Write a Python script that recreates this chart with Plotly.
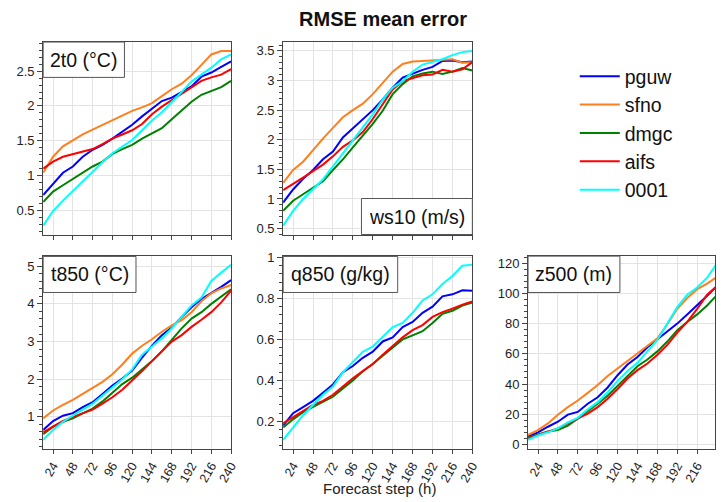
import plotly.graph_objects as go

W, H = 723, 502

steps = [12, 24, 36, 48, 60, 72, 84, 96, 108, 120, 132, 144, 156, 168, 180, 192, 204, 216, 228, 240]
models = ['pguw', 'sfno', 'dmgc', 'aifs', '0001']
colors = {'pguw': '#0000ff', 'sfno': '#ff7f1e', 'dmgc': '#008000', 'aifs': '#ff0000', '0001': '#00ffff'}

# ── 2t0 (°C) ──────────────────────────────────────────────────────────────────
t2_pguw = [0.72, 0.88, 1.04, 1.13, 1.27, 1.37, 1.44, 1.53, 1.63, 1.73, 1.85, 1.96, 2.07, 2.12, 2.20, 2.28, 2.42, 2.48, 2.56, 2.64]
t2_sfno = [1.04, 1.27, 1.42, 1.51, 1.59, 1.66, 1.73, 1.80, 1.87, 1.93, 1.98, 2.04, 2.14, 2.24, 2.32, 2.44, 2.59, 2.74, 2.79, 2.79]
t2_dmgc = [0.62, 0.77, 0.86, 0.95, 1.03, 1.13, 1.20, 1.31, 1.38, 1.44, 1.53, 1.61, 1.68, 1.81, 1.94, 2.06, 2.16, 2.22, 2.27, 2.36]
t2_aifs = [1.10, 1.20, 1.27, 1.31, 1.345, 1.38, 1.45, 1.53, 1.59, 1.65, 1.74, 1.88, 1.99, 2.08, 2.18, 2.26, 2.36, 2.41, 2.45, 2.53]
t2_0001 = [0.28, 0.49, 0.64, 0.78, 0.92, 1.06, 1.19, 1.32, 1.42, 1.51, 1.65, 1.79, 1.91, 2.05, 2.20, 2.35, 2.45, 2.55, 2.67, 2.74]

# ── ws10 (m/s) ────────────────────────────────────────────────────────────────
ws_pguw = [0.94, 1.16, 1.34, 1.49, 1.67, 1.80, 2.04, 2.19, 2.35, 2.50, 2.68, 2.88, 3.05, 3.12, 3.18, 3.23, 3.33, 3.34, 3.31, 3.32]
ws_sfno = [1.27, 1.49, 1.63, 1.83, 2.02, 2.20, 2.38, 2.50, 2.61, 2.77, 2.96, 3.15, 3.28, 3.32, 3.33, 3.34, 3.34, 3.36, 3.30, 3.31]
ws_dmgc = [0.80, 0.97, 1.08, 1.19, 1.30, 1.49, 1.67, 1.87, 2.07, 2.27, 2.49, 2.77, 2.94, 3.07, 3.12, 3.15, 3.11, 3.15, 3.21, 3.17]
ws_aifs = [1.15, 1.25, 1.36, 1.47, 1.58, 1.72, 1.88, 1.99, 2.13, 2.35, 2.60, 2.85, 2.99, 3.04, 3.09, 3.10, 3.18, 3.15, 3.19, 3.31]
ws_0001 = [0.55, 0.80, 1.00, 1.16, 1.33, 1.55, 1.77, 1.99, 2.19, 2.43, 2.68, 2.88, 2.99, 3.15, 3.27, 3.31, 3.36, 3.43, 3.48, 3.50]

# ── t850 (°C) ─────────────────────────────────────────────────────────────────
t8_pguw = [0.65, 0.89, 1.03, 1.10, 1.26, 1.39, 1.61, 1.83, 2.02, 2.23, 2.57, 2.89, 3.17, 3.37, 3.65, 3.91, 4.13, 4.28, 4.45, 4.63]
t8_sfno = [0.96, 1.17, 1.32, 1.45, 1.61, 1.78, 1.93, 2.13, 2.39, 2.68, 2.89, 3.06, 3.26, 3.43, 3.57, 3.78, 4.07, 4.28, 4.41, 4.50]
t8_dmgc = [0.54, 0.74, 0.87, 0.96, 1.09, 1.22, 1.41, 1.63, 1.87, 2.04, 2.26, 2.48, 2.74, 3.04, 3.35, 3.61, 3.78, 4.00, 4.19, 4.39]
t8_aifs = [0.59, 0.74, 0.89, 1.00, 1.09, 1.19, 1.35, 1.52, 1.72, 1.96, 2.22, 2.48, 2.74, 3.00, 3.17, 3.39, 3.58, 3.78, 4.04, 4.35]
t8_0001 = [0.39, 0.65, 0.87, 1.04, 1.19, 1.35, 1.57, 1.78, 2.00, 2.26, 2.65, 2.87, 3.09, 3.35, 3.67, 3.96, 4.17, 4.61, 4.83, 5.04]

# ── q850 (g/kg) ── sfno has no q850 ──────────────────────────────────────────
q8_pguw = [0.18, 0.24, 0.27, 0.30, 0.34, 0.38, 0.44, 0.47, 0.51, 0.54, 0.59, 0.61, 0.66, 0.685, 0.73, 0.76, 0.81, 0.82, 0.84, 0.837]
q8_sfno = None
q8_dmgc = [0.17, 0.21, 0.245, 0.27, 0.295, 0.32, 0.36, 0.40, 0.445, 0.48, 0.52, 0.56, 0.60, 0.62, 0.64, 0.68, 0.725, 0.74, 0.765, 0.78]
q8_aifs = [0.19, 0.22, 0.25, 0.28, 0.30, 0.33, 0.37, 0.41, 0.445, 0.48, 0.525, 0.57, 0.61, 0.645, 0.67, 0.71, 0.733, 0.75, 0.77, 0.785]
q8_0001 = [0.11, 0.17, 0.23, 0.28, 0.33, 0.37, 0.44, 0.49, 0.54, 0.565, 0.61, 0.66, 0.68, 0.73, 0.79, 0.82, 0.87, 0.91, 0.96, 0.965]

# ── z500 (m) ──────────────────────────────────────────────────────────────────
z5_pguw = [5.2, 8.0, 11.7, 15.0, 19.7, 21.5, 26.9, 31.2, 37.7, 45.8, 52.9, 57.9, 64.4, 69.6, 74.6, 80.0, 86.1, 92.0, 98.5, 105.0]
z5_sfno = [6.3, 9.5, 13.9, 19.7, 24.7, 29.1, 34.1, 39.3, 45.3, 50.3, 55.1, 60.1, 64.9, 70.3, 79.6, 89.8, 97.0, 102.8, 106.5, 111.0]
z5_dmgc = [4.6, 6.7, 8.5, 9.5, 12.4, 17.1, 21.9, 26.9, 32.3, 38.8, 45.3, 51.8, 56.2, 61.6, 68.1, 75.7, 81.1, 86.1, 92.0, 99.0]
z5_aifs = [4.1, 6.3, 8.5, 10.6, 13.9, 17.1, 20.4, 24.7, 30.2, 36.7, 43.6, 49.2, 53.6, 59.4, 65.9, 74.0, 81.1, 89.8, 99.1, 105.0]
z5_0001 = [3.0, 5.9, 8.0, 10.6, 14.5, 17.6, 23.2, 28.0, 34.5, 42.1, 48.6, 54.0, 61.6, 69.2, 80.0, 90.9, 99.1, 103.9, 110.4, 120.0]

panels = [
    ('2t0 (°C)',   [t2_pguw, t2_sfno, t2_dmgc, t2_aifs, t2_0001]),
    ('ws10 (m/s)', [ws_pguw, ws_sfno, ws_dmgc, ws_aifs, ws_0001]),
    ('t850 (°C)',  [t8_pguw, t8_sfno, t8_dmgc, t8_aifs, t8_0001]),
    ('q850 (g/kg)', [q8_pguw, q8_sfno, q8_dmgc, q8_aifs, q8_0001]),
    ('z500 (m)',   [z5_pguw, z5_sfno, z5_dmgc, z5_aifs, z5_0001]),
]

def px(x): return x / W
def py(y): return 1 - y / H

# panel boxes in pixels: (left, right, top, bottom)
boxes = [(42.7, 233, 36.7, 233), (285.7, 477.3, 36.7, 232.7),
         (42.7, 233, 255, 450.7), (285.7, 477.3, 255, 450.7), (533.7, 723, 254.7, 450.7)]
yranges = [[0.148, 2.918], [0.40, 3.65], [0.157, 5.26], [0.067, 1.005], [-2.8, 124.7]]
ydticks = [0.5, 0.5, 1, 0.2, 20]
yminor = [0.1, 0.1, 0.2, 0.04, 4]
xranges = [[12, 240]] * 4 + [[12, 237.5]]

fig = go.Figure()
FONT = 'Liberation Sans, Arial, sans-serif'

for i, (label, series) in enumerate(panels):
    n = i + 1
    for m, vals in zip(models, series):
        if vals is None:
            continue
        fig.add_trace(go.Scatter(x=steps, y=vals, mode='lines', name=m,
                                 line=dict(color=colors[m], width=2),
                                 showlegend=(i == 0),
                                 xaxis=f'x{n}', yaxis=f'y{n}'))
    l, r, t, b = boxes[i]
    common = dict(showline=True, linecolor='#444', linewidth=1, mirror=True,
                  showgrid=True, gridcolor='#e3e3e3', gridwidth=1,
                  ticks='outside', ticklen=5, tickcolor='#444', zeroline=False,
                  tickfont=dict(family=FONT, size=13, color='#222'))
    fig.layout[f'xaxis{n}'] = dict(common, domain=[px(l), px(r)], range=xranges[i],
                                   anchor=f'y{n}', tickmode='array',
                                   tickvals=[24, 48, 72, 96, 120, 144, 168, 192, 216, 240],
                                   tickangle=-60, ticklen=4, showticklabels=(i >= 2),
                                   tickfont=dict(family=FONT, size=12.5, color='#222'))
    fig.layout[f'yaxis{n}'] = dict(common, domain=[py(b), py(t)], range=yranges[i],
                                   anchor=f'x{n}', dtick=ydticks[i], tick0=0,
                                   minor=dict(dtick=yminor[i], ticks='outside', ticklen=3,
                                              tickcolor='#444', showgrid=False))

# label boxes
label_boxes = [(42.7, 125, 36.7, 72.7), (365, 477.3, 196, 232.7), (42.7, 136.7, 255, 291.7),
               (285.7, 401.7, 255, 291.7), (533.7, 626.7, 254.7, 291.7)]
for (label, _), (l, r, t, b) in zip(panels, label_boxes):
    fig.add_shape(type='rect', xref='paper', yref='paper', x0=px(l), x1=px(r), y0=py(b), y1=py(t),
                  line=dict(color='#555', width=1), fillcolor='white', layer='above')
    fig.add_annotation(x=px((l + r) / 2), y=py((t + b) / 2), xref='paper', yref='paper',
                       text=label, showarrow=False, xanchor='center', yanchor='middle',
                       font=dict(family=FONT, size=19.5, color='#111'))

fig.add_annotation(x=px(383), y=0, xref='paper', yref='paper', text='Forecast step (h)',
                   showarrow=False, xanchor='center', yanchor='bottom',
                   font=dict(family=FONT, size=15, color='#222'))

fig.update_layout(
    width=W, height=H, margin=dict(l=0, r=0, t=0, b=0),
    paper_bgcolor='white', plot_bgcolor='white',
    title=dict(text='<b>RMSE mean error</b>', x=px(383), xanchor='center',
               y=py(19), yanchor='middle', font=dict(family=FONT, size=20, color='#111')),
    legend=dict(x=px(581), y=py(52), xanchor='left', yanchor='top',
                font=dict(family=FONT, size=19.5, color='#111'),
                bgcolor='rgba(0,0,0,0)', itemwidth=40, tracegroupgap=0),
)

# page body has a default 8px margin; remove it so the figure sits at the window origin
fig.write_html("out.html", config={'displayModeBar': False},
               post_script="document.body.style.margin='0';")
